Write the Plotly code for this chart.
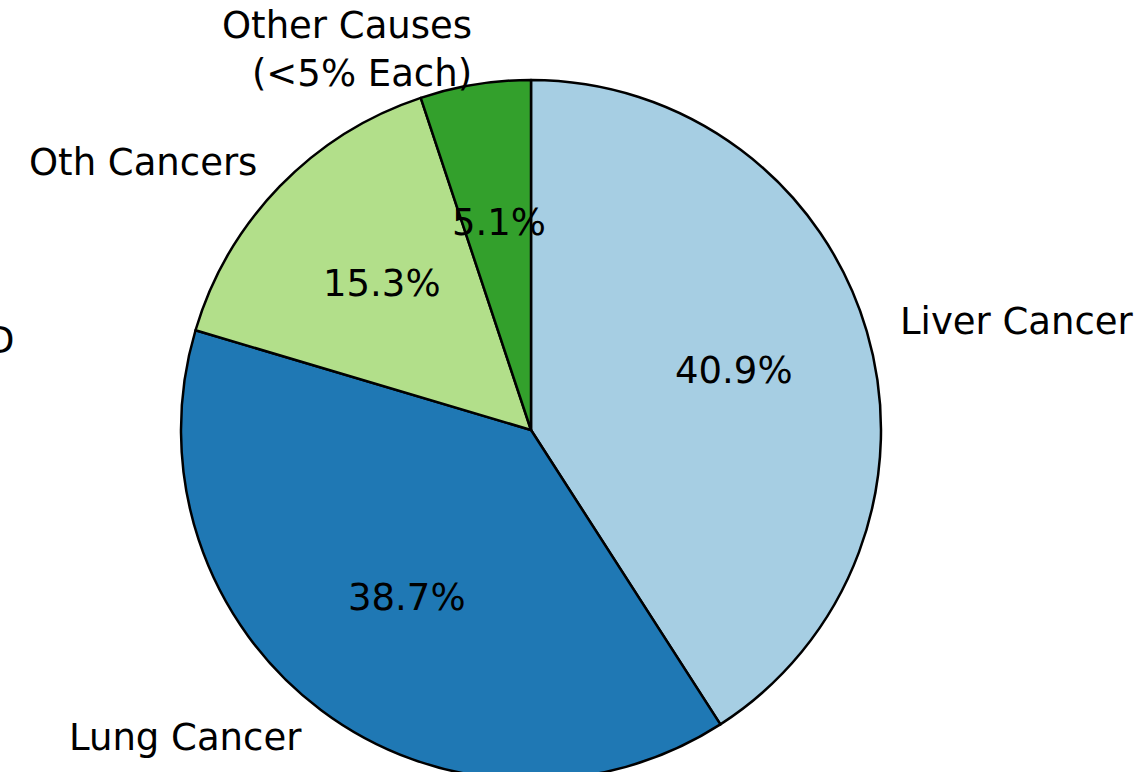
import math
import plotly.graph_objects as go

# ---- data ----
labels = ["Liver Cancer", "Lung Cancer", "Oth Cancers", "Other Causes<br>(&lt;5% Each)"]
values = [40.9, 38.7, 15.3, 5.1]
colors = ["#a6cee3", "#1f78b4", "#b2df8a", "#33a02c"]
pct_text = [f"{v:.1f}%" for v in values]
stray_label = "D"

# ---- layout geometry (pixels) ----
W, H = 1141, 780
CX, CY, R = 531, 430, 350
FONT = dict(family="DejaVu Sans", size=37, color="black")

fig = go.Figure(go.Pie(
    labels=labels,
    values=values,
    sort=False,
    direction="clockwise",
    rotation=0,
    marker=dict(colors=colors, line=dict(color="black", width=2.5)),
    textinfo="none",
    hoverinfo="label+percent",
    showlegend=False,
    domain=dict(x=[(CX - R) / W, (CX + R) / W], y=[(H - CY - R) / H, (H - CY + R) / H]),
))

def px_to_paper(x, y):
    return x / W, (H - y) / H

annotations = []
total = sum(values)
cum = 0.0
for lab, v, pt in zip(labels, values, pct_text):
    mid = math.radians(90 - 360 * (cum + v / 2) / total)
    cum += v
    # outside label at 1.1 R
    lx, ly = CX + 1.1 * R * math.cos(mid), CY - 1.1 * R * math.sin(mid)
    ax, ay = px_to_paper(lx, ly)
    anchor = "left" if math.cos(mid) > 0 else "right"
    annotations.append(dict(x=ax, y=ay, xref="paper", yref="paper", text=lab,
                            showarrow=False, xanchor=anchor, yanchor="middle",
                            align=anchor, font=FONT, borderpad=0, borderwidth=0,
                            xshift=(0 if anchor == "left" else 2)))
    # percent label at 0.6 R
    tx, ty = CX + 0.6 * R * math.cos(mid), CY - 0.6 * R * math.sin(mid)
    bx, by = px_to_paper(tx, ty)
    annotations.append(dict(x=bx, y=by, xref="paper", yref="paper", text=pt,
                            showarrow=False, xanchor="center", yanchor="middle",
                            font=FONT, borderpad=0, borderwidth=0, xshift=2))

sx, sy = px_to_paper(15, 340)
annotations.append(dict(x=sx, y=sy, xref="paper", yref="paper", text=stray_label,
                        showarrow=False, xanchor="right", yanchor="middle", font=FONT,
                        borderpad=0, borderwidth=0))

fig.update_layout(
    width=W, height=H,
    margin=dict(l=0, r=0, t=0, b=0),
    paper_bgcolor="white",
    plot_bgcolor="white",
    annotations=annotations,
)

fig.write_html("out.html", config={"displayModeBar": False},
               post_script="document.body.style.margin='0';document.body.style.overflow='hidden';document.documentElement.style.overflow='hidden';")
